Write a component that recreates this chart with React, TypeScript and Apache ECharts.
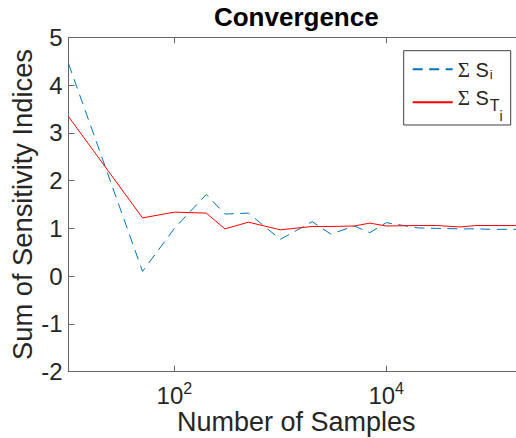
import React, { useEffect, useRef } from 'react';
import * as echarts from 'echarts';

// ---- data ----
const samples = [10, 50, 100, 200, 300, 500, 1000, 2000, 3000, 5000, 7000, 10000, 20000, 30000, 50000, 70000, 100000, 200000];
const sumSi = [4.45, 0.1, 1.0, 1.71, 1.3, 1.32, 0.77, 1.14, 0.88, 1.05, 0.91, 1.12, 1.01, 1.0, 0.99, 0.99, 0.98, 0.98];
const sumSTi = [3.34, 1.22, 1.34, 1.32, 0.99, 1.13, 0.97, 1.04, 1.04, 1.05, 1.11, 1.05, 1.06, 1.06, 1.03, 1.06, 1.06, 1.06];
const xTickValues = [100, 10000];
const xMin = 10;
const xMax = 200000;
const yMin = -2;
const yMax = 5;
const titleText = 'Convergence';
const xName = 'Number of Samples';
const yName = 'Sum of Sensitivity Indices';
const seriesNames = ['Σ S_i', 'Σ S_T_i'];

const W = 540;
const H = 438;
const AX = '#666666';
const TXT = '#262626';

const tok = (fontFamily: string, fontSize: number, h: number, padTop: number, lh: number, padLeft = 0) => ({
  fontFamily,
  fontSize,
  height: h,
  lineHeight: lh,
  verticalAlign: 'top',
  padding: [padTop, 0, 0, padLeft],
  color: TXT,
});

export default function App() {
  const ref = useRef<HTMLDivElement>(null);
  useEffect(() => {
    if (!ref.current) return;
    const chart = echarts.init(ref.current, undefined, { renderer: 'svg' });
    const baseAxis = {
      type: 'log' as const,
      logBase: 10,
      min: xMin,
      max: xMax,
      gridIndex: 0,
      splitLine: { show: false },
      minorTick: { show: false },
      minorSplitLine: { show: false },
      axisLine: { show: true, onZero: false, lineStyle: { color: AX, width: 1 } },
      axisTick: { show: true, inside: true, length: 6, customValues: xTickValues, lineStyle: { color: AX, width: 1 } },
    };
    const L1 = 23.8;
    const L2 = 42.2;
    chart.setOption({
      animation: false,
      backgroundColor: '#ffffff',
      textStyle: { fontFamily: 'Liberation Sans' },
      title: {
        text: titleText,
        left: 296.3,
        top: 3.6,
        textAlign: 'center',
        padding: 0,
        textStyle: { fontFamily: 'Liberation Sans', fontWeight: 'bold', fontSize: 26, color: '#000000' },
      },
      grid: { left: 68.5, right: W - 524, top: 37.3, bottom: H - 371.7, containLabel: false, outerBoundsMode: 'none' },
      legend: {
        orient: 'vertical',
        left: 403.7,
        top: 50.7,
        padding: [6.7, 8, 1.6, 8],
        itemGap: 0,
        itemWidth: 40,
        itemHeight: 10,
        selectedMode: false,
        borderColor: '#404040',
        borderWidth: 1,
        backgroundColor: '#ffffff',
        itemStyle: { opacity: 0, borderWidth: 0 },
        data: seriesNames,
        formatter: (n: string) =>
          n === seriesNames[0] ? '{sig1|Σ}{s1| S}{sub1|i}' : '{sig2|Σ}{s2| S}{t2|T}{i2|i}',
        textStyle: {
          color: TXT,
          rich: {
            sig1: tok('Liberation Serif', 21, 20, 2.3, L1),
            s1: tok('Liberation Sans', 20, 20, 2.3, L1),
            sub1: tok('Liberation Sans', 13, 13, 10.8, L1, 1),
            sig2: tok('Liberation Serif', 21, 20, 7.2, L2),
            s2: tok('Liberation Sans', 20, 20, 7.2, L2),
            t2: tok('Liberation Sans', 16, 16, 16.7, L2, 1),
            i2: tok('Liberation Sans', 14, 14, 28.2, L2),
          },
        },
      },
      xAxis: [
        {
          ...baseAxis,
          position: 'bottom',
          axisLabel: {
            show: true,
            customValues: xTickValues,
            margin: 8.3,
            formatter: (v: number) => `{b|10}{s|${Math.round(Math.log10(v))}}`,
            rich: {
              b: tok('Liberation Sans', 24, 24, 3.3, 27.3),
              s: tok('Liberation Sans', 16, 16, 0, 27.3),
            },
          },
          name: xName,
          nameLocation: 'middle',
          nameGap: 37,
          nameMoveOverlap: false,
          nameTextStyle: { fontFamily: 'Liberation Sans', fontSize: 27, color: TXT },
        },
        {
          ...baseAxis,
          position: 'top',
          axisLabel: { show: false },
        },
      ],
      yAxis: {
        type: 'value',
        min: yMin,
        max: yMax,
        interval: 1,
        splitLine: { show: false },
        axisLine: { show: true, lineStyle: { color: AX, width: 1 } },
        axisTick: { show: true, inside: true, length: 6, lineStyle: { color: AX, width: 1 } },
        axisLabel: { margin: 6, fontFamily: 'Liberation Sans', fontSize: 24, color: TXT },
        name: yName,
        nameLocation: 'middle',
        nameGap: 33,
        nameMoveOverlap: false,
        nameTextStyle: { fontFamily: 'Liberation Sans', fontSize: 27.3, color: TXT },
      },
      series: [
        {
          type: 'line',
          name: seriesNames[0],
          xAxisIndex: 0,
          data: samples.map((s, i) => [s, sumSi[i]]),
          symbol: 'none',
          showSymbol: false,
          lineStyle: { color: '#0072BD', width: 1, type: [10, 6.5] },
          itemStyle: { color: '#0072BD' },
        },
        {
          type: 'line',
          name: seriesNames[1],
          xAxisIndex: 0,
          data: samples.map((s, i) => [s, sumSTi[i]]),
          symbol: 'none',
          showSymbol: false,
          lineStyle: { color: '#FF0000', width: 1 },
          itemStyle: { color: '#FF0000' },
        },
      ],
    });
    return () => chart.dispose();
  }, []);
  return (
    <div style={{ position: 'fixed', left: 0, top: 0, width: 516, height: 438, overflow: 'hidden', background: '#fff' }}>
      <div ref={ref} style={{ width: W, height: H }} />
    </div>
  );
}
